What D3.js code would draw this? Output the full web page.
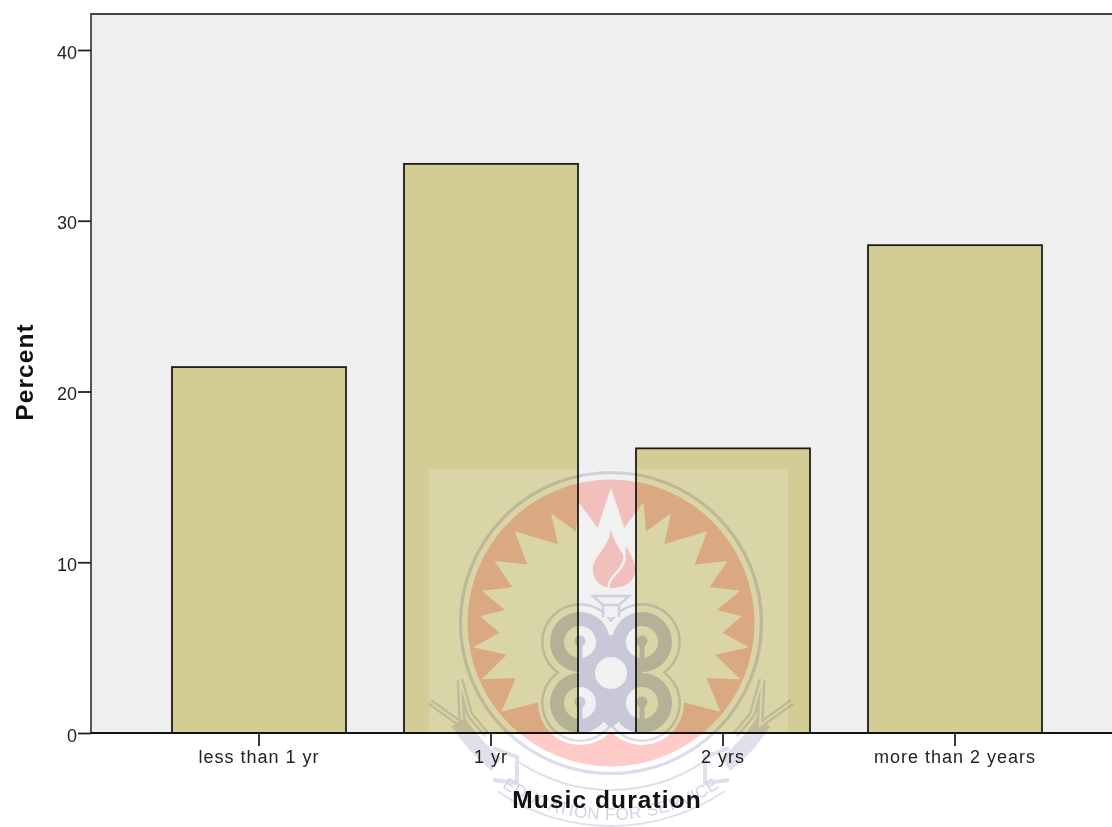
<!DOCTYPE html>
<html lang="en">
<head>
<meta charset="UTF-8">
<title>Music duration</title>
<script src="https://d3js.org/d3.v7.min.js"></script>
<style>
  body { margin: 0; background: #fff; overflow: hidden; }
  svg { display: block; font-family: "Liberation Sans", Arial, sans-serif; filter: blur(0.4px); }
  .tick text { font-size: 18px; fill: #222; }
  .x-axis .tick text { letter-spacing: 1px; }
  .axis-title { font-size: 24.5px; font-weight: bold; fill: #111; letter-spacing: 1.1px; text-anchor: middle; }
  .seal-text { font-size: 17px; fill: #d2d3e4; letter-spacing: 0.6px; text-anchor: middle; }
</style>
</head>
<body>
<div id="chart"></div>
<script>
// values
const categories = ["less than 1 yr", "1 yr", "2 yrs", "more than 2 years"];
const percents = [21.43, 33.33, 16.67, 28.57];
const yTicks = [0, 10, 20, 30, 40];

const svgWidth = 1112;
const svgHeight = 827;
const plot = { left: 91, right: 1112, top: 14, bottom: 733 };

const svg = d3.select("#chart").append("svg")
  .attr("width", svgWidth)
  .attr("height", svgHeight);

const x = d3.scaleBand()
  .domain(categories)
  .range([143, 1071])
  .paddingInner(0.25)
  .paddingOuter(0.125);

const y = d3.scaleLinear()
  .domain([0, 40])
  .range([plot.bottom, 50]);

// plot background
svg.append("rect")
  .attr("x", plot.left).attr("y", plot.top)
  .attr("width", plot.right - plot.left).attr("height", plot.bottom - plot.top)
  .attr("fill", "#efefef");
svg.append("path")
  .attr("d", `M${plot.left},${plot.bottom}V${plot.top}H${plot.right}`)
  .attr("fill", "none").attr("stroke", "#444").attr("stroke-width", 1.8);

// bars, fill first so the pale square of the watermark sits under the outlines
svg.selectAll(".bar")
  .data(percents)
  .enter().append("rect")
  .attr("class", "bar")
  .attr("x", (d, i) => x(categories[i]))
  .attr("y", d => y(d))
  .attr("width", x.bandwidth())
  .attr("height", d => y(0) - y(d))
  .attr("fill", "#d3cd95");

svg.append("rect").attr("x", 429).attr("y", 469).attr("width", 359).attr("height", 264)
  .attr("fill", "#fff").attr("opacity", 0.17);

svg.selectAll(".bar-outline")
  .data(percents)
  .enter().append("rect")
  .attr("class", "bar-outline")
  .attr("x", (d, i) => x(categories[i]))
  .attr("y", d => y(d))
  .attr("width", x.bandwidth())
  .attr("height", d => y(0) - y(d))
  .attr("fill", "none")
  .attr("stroke", "#1c1c1c")
  .attr("stroke-width", 1.8);

// axes
const yAxis = svg.append("g")
  .attr("transform", `translate(${plot.left},0)`)
  .call(d3.axisLeft(y).tickValues(yTicks).tickSize(13).tickPadding(1).tickFormat(d3.format("d")));
yAxis.select(".domain").remove();
yAxis.selectAll("line").attr("stroke", "#222").attr("stroke-width", 1.8);
yAxis.selectAll("text").attr("dy", "0.45em");

const xAxis = svg.append("g")
  .attr("class", "x-axis")
  .attr("transform", `translate(0,${plot.bottom})`)
  .call(d3.axisBottom(x).tickSize(13).tickPadding(4).tickSizeOuter(0));
xAxis.select(".domain").attr("d", `M${plot.left},0H${plot.right}`).attr("stroke", "#111").attr("stroke-width", 1.8);
xAxis.selectAll("line").attr("stroke", "#222").attr("stroke-width", 1.8);

// watermark seal, multiplied over everything so white parts leave the page alone
const pink = "#ffcbc8";
const lav = "#d4d4e6";
const lavPale = "#e0e0ec";
const seal = svg.append("g")
  .attr("pointer-events", "none")
  .attr("transform", "translate(611,623)")
  .style("mix-blend-mode", "multiply");

const radians = d => d * Math.PI / 180;
const line = d3.line();
const arc = d3.arc();

// banner: side bands, hooks and zigzag tails, behind the disc
[1, -1].forEach(side => {
  const start = side > 0 ? 123 : 219;
  seal.append("path")
    .attr("d", arc({ innerRadius: 174, outerRadius: 190, startAngle: radians(start), endAngle: radians(start + 18) }))
    .attr("fill", lavPale);
  const tail = [[-181, 79], [-149, 102], [-151, 57], [-141, 92], [-124, 112]].map(p => [p[0] * side, p[1]]);
  seal.append("path").attr("d", line(tail))
    .attr("fill", "none").attr("stroke", lavPale).attr("stroke-width", 7);
  seal.append("path").attr("d", line(tail))
    .attr("fill", "none").attr("stroke", "#fff").attr("stroke-width", 2);
  const hook = [[-118, 125], [-94, 134], [-94, 160], [-118, 157]].map(p => [p[0] * side, p[1]]);
  seal.append("path").attr("d", line(hook))
    .attr("fill", "none").attr("stroke", lavPale).attr("stroke-width", 4);
});
seal.append("path")
  .attr("d", arc({ innerRadius: 166, outerRadius: 168, startAngle: radians(146), endAngle: radians(214) }))
  .attr("fill", lavPale);
seal.append("path")
  .attr("d", arc({ innerRadius: 202, outerRadius: 204, startAngle: radians(146), endAngle: radians(214) }))
  .attr("fill", lavPale);

// ring and disc
seal.append("circle").attr("r", 156).attr("fill", "#fff");
seal.append("circle").attr("r", 150.5).attr("fill", "none").attr("stroke", "#dcdcea").attr("stroke-width", 3.2);
seal.append("circle").attr("r", 143.5).attr("fill", pink);

// star, open at the bottom where the emblem sits; tips and valleys measured per side
const starRight = [[0, 135], [8, 96], [15, 125], [21, 98], [28.6, 125], [34, 95], [46.4, 133], [55, 102],
  [62, 132], [70, 105], [76, 133], [83, 107], [87, 131], [95, 112], [100, 140], [107, 109], [113.5, 141],
  [120, 110], [129, 141], [137, 109]];
const polar = ([a, r]) => [r * Math.sin(radians(a)), -r * Math.cos(radians(a))];
const starPts = starRight.map(polar)
  .concat([[0, 60]])
  .concat(starRight.slice(1).reverse().map(([a, r]) => polar([-a, r])));
seal.append("path").attr("d", line(starPts) + "Z").attr("fill", "#fff");

// four rings of the emblem
const lobes = [[-31, 19], [31, 19], [-31, 80], [31, 80]];
const lobe = (r, fill) => seal.selectAll(null).data(lobes).enter().append("circle")
  .attr("cx", d => d[0]).attr("cy", d => d[1]).attr("r", r).attr("fill", fill);
lobe(42, "#fff");
lobe(39, "#dcdcea");
lobe(36.5, "#fff");
lobe(30, lav);
seal.append("path")
  .attr("d", line([[-31, 19], [0, 12], [31, 19], [31, 80], [0, 105], [-31, 80]]) + "Z")
  .attr("fill", lav);
lobe(16, "#fff");
seal.selectAll(null).data(lobes).enter().append("path")
  .attr("d", d => `M${d[0]},${d[1] - 1}V${d[1] + 17}`)
  .attr("stroke", lav).attr("stroke-width", 5);
seal.selectAll(null).data(lobes).enter().append("circle")
  .attr("cx", d => d[0]).attr("cy", d => d[1] - 1).attr("r", 5.5).attr("fill", lav);
seal.append("circle").attr("cy", 50).attr("r", 16).attr("fill", "#fff");

// cup and flame
seal.append("path")
  .attr("d", "M-8,-6V-18L-18,-27H18L8,-18V-6M-8,-18H8")
  .attr("fill", "#fff").attr("stroke", "#dcdcea").attr("stroke-width", 2.5);
seal.append("path")
  .attr("d", "M0,-93C4,-78 12,-72 14,-62C15,-68 14,-74 15,-77C20,-68 26,-58 24,-50C22,-40 12,-35 0,-35C-10,-35 -19,-44 -18,-55C-17,-68 -4,-72 0,-93Z")
  .attr("fill", pink);
seal.append("path")
  .attr("d", "M-2,-34C-5,-46 12,-50 14,-66")
  .attr("fill", "none").attr("stroke", "#fff").attr("stroke-width", 2.5);

// motto along the bottom of the banner
const mottoR = 197;
const mottoA = radians(50);
seal.append("path").attr("id", "motto-arc").attr("fill", "none")
  .attr("d", `M${-mottoR * Math.sin(mottoA)},${mottoR * Math.cos(mottoA)}` +
    `A${mottoR},${mottoR} 0 0 0 ${mottoR * Math.sin(mottoA)},${mottoR * Math.cos(mottoA)}`);
seal.append("text").attr("class", "seal-text")
  .append("textPath").attr("href", "#motto-arc").attr("startOffset", "50%")
  .text("EDUCATION FOR SERVICE");

// axis titles last, they print over the seal
svg.append("text").attr("class", "axis-title")
  .attr("x", 607).attr("y", 808).text("Music duration");
svg.append("text").attr("class", "axis-title")
  .attr("transform", "translate(33,372) rotate(-90)").text("Percent");
</script>
</body>
</html>
